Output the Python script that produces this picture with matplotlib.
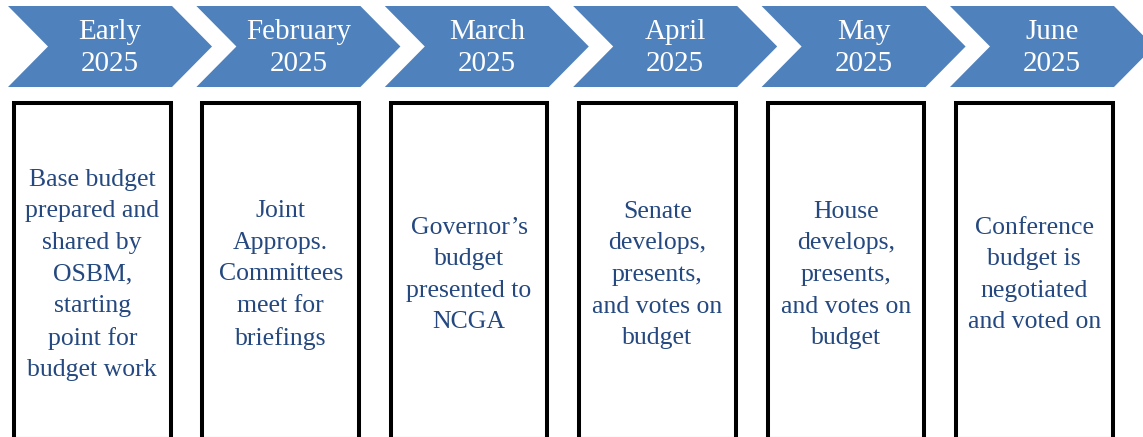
import matplotlib
matplotlib.use("Agg")
import matplotlib.pyplot as plt
from matplotlib.patches import Polygon, Rectangle

# ---- data ----
periods = ["Early\n2025", "February\n2025", "March\n2025", "April\n2025", "May\n2025", "June\n2025"]
descriptions = [
    "Base budget\nprepared and\nshared by\nOSBM,\nstarting\npoint for\nbudget work",
    "Joint\nApprops.\nCommittees\nmeet for\nbriefings",
    "Governor\u2019s\nbudget\npresented to\nNCGA",
    "Senate\ndevelops,\npresents,\nand votes on\nbudget",
    "House\ndevelops,\npresents,\nand votes on\nbudget",
    "Conference\nbudget is\nnegotiated\nand voted on",
]

# ---- style ----
W, H = 1143, 437
chev_color = "#4F81BD"
text_blue = "#24487F"
font = ["Liberation Serif", "DejaVu Serif"]

fig = plt.figure(figsize=(W / 100, H / 100), dpi=100)
ax = fig.add_axes([0, 0, 1, 1])
ax.set_xlim(0, W)
ax.set_ylim(H, 0)
ax.axis("off")

step = 188.4
x_start = 8
top, bot = 6, 87
flat_w, tip = 164, 40
mid = (top + bot) / 2

for i, (lab, desc) in enumerate(zip(periods, descriptions)):
    x0 = x_start + i * step
    pts = [(x0, top), (x0 + flat_w, top), (x0 + flat_w + tip, mid),
           (x0 + flat_w, bot), (x0, bot), (x0 + tip, mid)]
    ax.add_patch(Polygon(pts, closed=True, facecolor=chev_color, edgecolor="none"))
    ax.text(x0 + (tip + flat_w) / 2, mid + 1.5, lab, ha="center", va="center",
            color="white", fontsize=21, family=font, linespacing=1.33)

    bx = 14 + i * step
    ax.add_patch(Rectangle((bx, 102.5), 156.5, 336.5, facecolor="white",
                           edgecolor="black", linewidth=2.9, joinstyle="miter"))
    ax.text(bx + 156.5 / 2, 275, desc, ha="center", va="center",
            color=text_blue, fontsize=18.5, family=font, linespacing=1.56)

fig.savefig("out.png", dpi=100)
